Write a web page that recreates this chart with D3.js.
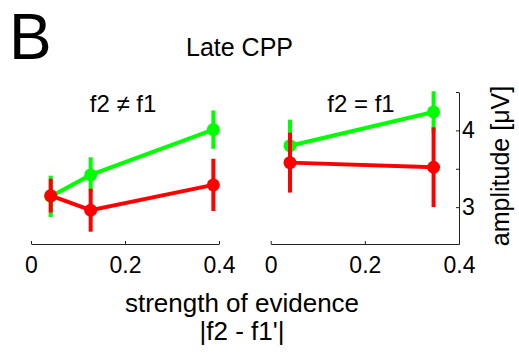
<!DOCTYPE html>
<html>
<head>
<meta charset="utf-8">
<script src="https://cdn.jsdelivr.net/npm/d3@7"></script>
<style>
  body { margin: 0; background: #fff; }
  text { font-family: "Liberation Sans", Arial, sans-serif; fill: #000; }
</style>
</head>
<body>
<div id="chart"></div>
<script>
// Data
var xTicks = [0, 0.2, 0.4];
var yTicks = [3, 3.5, 4, 4.5];
var yTickLabels = ["3", "", "4", ""];

// left panel: f2 != f1
var leftX = [0.042, 0.127, 0.388];
var leftGreen = [3.14, 3.42, 4.01];
var leftGreenErr = [0.27, 0.23, 0.25];
var leftRed = [3.15, 2.96, 3.29];
var leftRedErr = [0.22, 0.28, 0.34];

// right panel: f2 = f1
var rightX = [0.041, 0.346];
var rightGreen = [3.80, 4.24];
var rightGreenErr = [0.34, 0.27];
var rightRed = [3.58, 3.52];
var rightRedErr = [0.39, 0.52];

var svgWidth = 519;
var svgHeight = 356;

var svg = d3.select("#chart")
  .append("svg")
  .attr("width", svgWidth)
  .attr("height", svgHeight);

// shared y scale for both panels
var yScale = d3.scaleLinear()
  .domain([2.52, 4.5])
  .range([244, 92]);

var xLeft = d3.scaleLinear().domain([0, 0.4]).range([31, 219]);
var xRight = d3.scaleLinear().domain([0, 0.4]).range([270.7, 459]);

function drawSeries(g, xScale, xs, ys, errs, color) {
  var pts = xs.map(function(x, i) { return { x: x, y: ys[i], e: errs[i] }; });

  var line = d3.line()
    .x(d => xScale(d.x))
    .y(d => yScale(d.y));

  g.append("path")
    .datum(pts)
    .attr("d", line)
    .attr("fill", "none")
    .attr("stroke", color)
    .attr("stroke-width", 4);

  g.selectAll(null)
    .data(pts)
    .enter()
    .append("line")
    .attr("x1", d => xScale(d.x))
    .attr("x2", d => xScale(d.x))
    .attr("y1", d => yScale(d.y - d.e))
    .attr("y2", d => yScale(d.y + d.e))
    .attr("stroke", color)
    .attr("stroke-width", 4);

  g.selectAll(null)
    .data(pts)
    .enter()
    .append("circle")
    .attr("cx", d => xScale(d.x))
    .attr("cy", d => yScale(d.y))
    .attr("r", 6.5)
    .attr("fill", color);
}

function styleAxis(g) {
  g.select(".domain").attr("stroke", "#222").attr("stroke-width", 1);
  g.selectAll(".tick line").attr("stroke", "#222");
  g.selectAll("text")
    .attr("font-size", "23px")
    .attr("font-family", "Liberation Sans, Arial, sans-serif")
    .attr("fill", "#000");
}

function xAxis(scale) {
  return d3.axisBottom(scale)
    .tickValues(xTicks)
    .tickFormat(d3.format("~g"))
    .tickSizeInner(-3)
    .tickSizeOuter(0)
    .tickPadding(13);
}

// left panel
var leftG = svg.append("g");
leftG.append("g")
  .attr("transform", "translate(0,244)")
  .call(xAxis(xLeft))
  .call(styleAxis);
drawSeries(leftG, xLeft, leftX, leftGreen, leftGreenErr, "#00ff00");
drawSeries(leftG, xLeft, leftX, leftRed, leftRedErr, "#ff0000");

// right panel
var rightG = svg.append("g");
rightG.append("g")
  .attr("transform", "translate(0,244)")
  .call(xAxis(xRight))
  .call(styleAxis);
rightG.append("g")
  .attr("transform", "translate(459,0)")
  .call(d3.axisRight(yScale)
    .tickValues(yTicks)
    .tickFormat((d, i) => yTickLabels[i])
    .tickSizeInner(-3)
    .tickSizeOuter(0)
    .tickPadding(3))
  .call(styleAxis);
drawSeries(rightG, xRight, rightX, rightGreen, rightGreenErr, "#00ff00");
drawSeries(rightG, xRight, rightX, rightRed, rightRedErr, "#ff0000");

// titles and labels
svg.append("text")
  .attr("x", 9)
  .attr("y", 59)
  .attr("font-size", "64px")
  .text("B");

svg.append("text")
  .attr("x", 186)
  .attr("y", 56)
  .attr("font-size", "25px")
  .text("Late CPP");

svg.append("text")
  .attr("x", 123)
  .attr("y", 112)
  .attr("text-anchor", "middle")
  .attr("font-size", "24px")
  .text("f2 \u2260 f1");

svg.append("text")
  .attr("x", 361)
  .attr("y", 112)
  .attr("text-anchor", "middle")
  .attr("font-size", "24px")
  .text("f2 = f1");

svg.append("text")
  .attr("x", 242)
  .attr("y", 312)
  .attr("text-anchor", "middle")
  .attr("font-size", "26px")
  .text("strength of evidence");

svg.append("text")
  .attr("x", 242)
  .attr("y", 340)
  .attr("text-anchor", "middle")
  .attr("font-size", "26px")
  .text("|f2 - f1'|");

svg.append("text")
  .attr("transform", "translate(509,166) rotate(-90)")
  .attr("text-anchor", "middle")
  .attr("font-size", "25px")
  .text("amplitude [\u03bcV]");
</script>
</body>
</html>
